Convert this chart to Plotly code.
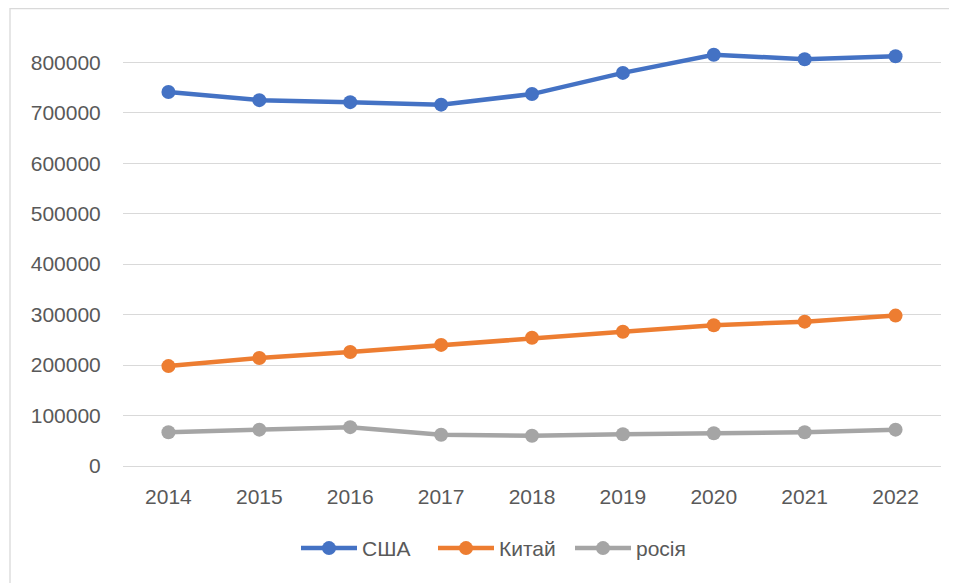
import plotly.graph_objects as go

years = ["2014", "2015", "2016", "2017", "2018", "2019", "2020", "2021", "2022"]
usa = [741000, 725000, 721000, 716000, 737000, 779000, 815000, 806000, 812000]
china = [198000, 214000, 226000, 240000, 254000, 266000, 279000, 286000, 298000]
russia = [67000, 72000, 77000, 62000, 60000, 63000, 65000, 67000, 72000]
y_ticks = [0, 100000, 200000, 300000, 400000, 500000, 600000, 700000, 800000]

series = [("США", usa, "#4472C4"), ("Китай", china, "#ED7D31"), ("росія", russia, "#A5A5A5")]

fig = go.Figure()
for name, vals, col in series:
    fig.add_trace(go.Scatter(
        x=years, y=vals, name=name, mode="lines+markers",
        line=dict(color=col, width=4.5),
        marker=dict(color=col, size=14),
    ))

font_family = "Liberation Sans, Arial, sans-serif"
fig.update_layout(
    width=949, height=575,
    margin=dict(l=115, r=16, t=24, b=117),
    paper_bgcolor="white", plot_bgcolor="white",
    font=dict(family=font_family, size=21, color="#595959"),
    showlegend=True,
    legend=dict(orientation="h", x=(183 - 10) / 818, xanchor="left", y=-0.19, yanchor="middle",
                font=dict(size=21, color="#595959"), itemwidth=56, traceorder="normal",
                entrywidth=66, entrywidthmode="pixels"),
    xaxis=dict(type="category", range=[-0.5, len(years) - 0.5],
               showgrid=False, showline=False, zeroline=False,
               ticks="outside", ticklen=12, tickcolor="rgba(0,0,0,0)",
               tickfont=dict(size=21, color="#595959")),
    yaxis=dict(range=[0, 860000], tickvals=y_ticks, ticktext=[str(v) for v in y_ticks],
               showgrid=True, gridcolor="#D9D9D9", gridwidth=1.3,
               zeroline=True, zerolinecolor="#D9D9D9", zerolinewidth=1.3,
               showline=False, ticks="outside", ticklen=17, tickcolor="rgba(0,0,0,0)",
               tickfont=dict(size=21, color="#595959")),
    shapes=[dict(type="rect", xref="paper", yref="paper",
                 x0=(2 - 115) / 818, x1=1.2, y0=-0.5, y1=(458 - 0.7) / 434,
                 line=dict(color="#D9D9D9", width=1.3), fillcolor="rgba(0,0,0,0)", layer="below")],
)

fig.write_html("out.html")
